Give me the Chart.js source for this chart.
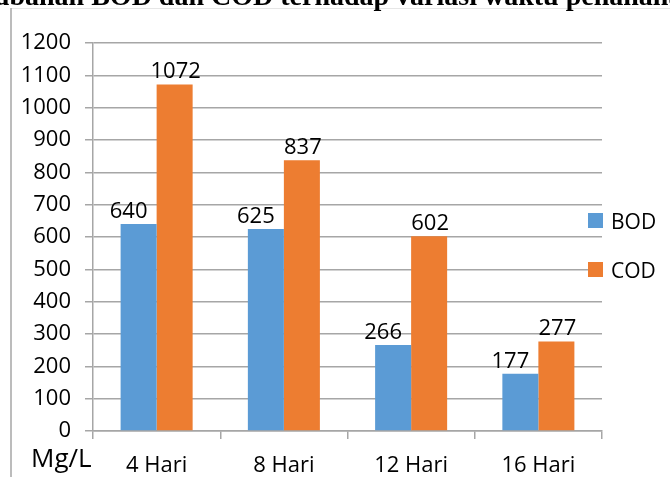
<!DOCTYPE html>
<html>
<head>
<meta charset="utf-8">
<script src="https://cdn.jsdelivr.net/npm/chart.js@4"></script>
<style>
  html, body { margin: 0; padding: 0; background: #ffffff; }
  #wrap { width: 670px; height: 477px; position: relative; }
</style>
</head>
<body>
<div id="wrap"><canvas id="chart" width="670" height="477"></canvas></div>
<script>
// data
var categories = ["4 Hari", "8 Hari", "12 Hari", "16 Hari"];
var seriesNames = ["BOD", "COD"];
var bodValues = [640, 625, 266, 177];
var codValues = [1072, 837, 602, 277];
var yMin = 0;
var yMax = 1200;
var yStep = 100;
var titleText = "Grafik Perubahan BOD dan COD terhadap variasi waktu penahanan";
var unitLabel = "Mg/L";

var gridColor = "#a6a6a6";
var textFont = "'Open Sans'";

// value labels on top of each bar (the BOD ones sit a bit to the left in the original)
var labelShift = [-10, 1];
var valueLabels = {
  id: "valueLabels",
  afterDatasetsDraw: function(chart) {
    var ctx = chart.ctx;
    ctx.save();
    ctx.font = "22px " + textFont;
    ctx.fillStyle = "#000";
    ctx.textAlign = "center";
    ctx.textBaseline = "alphabetic";
    chart.data.datasets.forEach(function(ds, i) {
      var meta = chart.getDatasetMeta(i);
      meta.data.forEach(function(bar, j) {
        ctx.fillText(String(ds.data[j]), bar.x + labelShift[i], bar.y - 6);
      });
    });
    ctx.restore();
  }
};

// frame, cut title, unit text and legend on the right
var extras = {
  id: "extras",
  afterDraw: function(chart) {
    var ctx = chart.ctx;
    ctx.save();
    // faint top line and left frame line
    ctx.strokeStyle = "#e6e6e6";
    ctx.lineWidth = 1;
    ctx.beginPath();
    ctx.moveTo(11, 8.5);
    ctx.lineTo(670, 8.5);
    ctx.stroke();
    ctx.strokeStyle = "#a6a6a6";
    ctx.lineWidth = 1.5;
    ctx.beginPath();
    ctx.moveTo(11, 8);
    ctx.lineTo(11, 477);
    ctx.stroke();

    // title, only its lower part shows
    ctx.font = "bold 28px 'Liberation Serif'";
    ctx.fillStyle = "#000";
    ctx.textAlign = "left";
    ctx.textBaseline = "alphabetic";
    var pre = ctx.measureText("Grafik Perubahan BOD dan ").width;
    ctx.fillText(titleText, 211 - pre, 5);

    // unit
    ctx.font = "26px " + textFont;
    ctx.fillText(unitLabel, 31, 467);

    // legend
    ctx.font = "21px " + textFont;
    chart.data.datasets.forEach(function(ds, i) {
      var y = 213 + i * 49;
      ctx.fillStyle = ds.backgroundColor;
      ctx.fillRect(588, y, 15, 15);
      ctx.fillStyle = "#000";
      ctx.fillText(ds.label, 611, y + 16);
    });
    ctx.restore();
  }
};

new Chart(document.getElementById("chart"), {
  type: "bar",
  data: {
    labels: categories,
    datasets: [
      { label: seriesNames[0], data: bodValues, backgroundColor: "#5b9bd5",
        categoryPercentage: 0.566, barPercentage: 1.0 },
      { label: seriesNames[1], data: codValues, backgroundColor: "#ed7d31",
        categoryPercentage: 0.566, barPercentage: 1.0 }
    ]
  },
  options: {
    responsive: false,
    animation: false,
    layout: { padding: { left: 0, right: 68, top: 43, bottom: 0 } },
    plugins: {
      legend: { display: false },
      title: { display: false },
      tooltip: { enabled: false }
    },
    scales: {
      x: {
        grid: { drawOnChartArea: false, drawTicks: true, tickLength: 8, color: gridColor, lineWidth: 1.5 },
        border: { color: gridColor, width: 1.5 },
        ticks: { color: "#000", font: { family: textFont, size: 22 }, padding: 14 },
        afterFit: function(s) { s.height = 46; }
      },
      y: {
        min: yMin,
        max: yMax,
        grid: { color: gridColor, lineWidth: 1.5, tickLength: 8 },
        border: { color: gridColor, width: 1.5 },
        ticks: {
          stepSize: yStep,
          color: "#000",
          font: { family: textFont, size: 22 },
          padding: 14,
          callback: function(v) { return String(v); }
        },
        afterFit: function(s) { s.width = 93; }
      }
    }
  },
  plugins: [valueLabels, extras]
});
</script>
</body>
</html>
